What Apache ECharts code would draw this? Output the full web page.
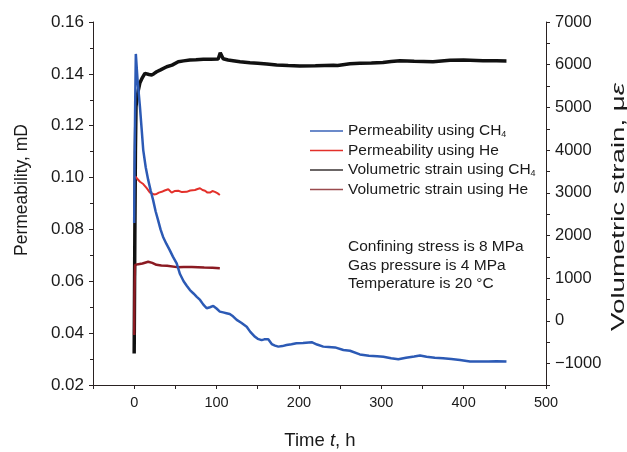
<!DOCTYPE html>
<html>
<head>
<meta charset="utf-8">
<script src="https://cdn.jsdelivr.net/npm/echarts@6/dist/echarts.min.js"></script>
<style>
html,body{margin:0;padding:0;background:#fff;}
#chart{width:627px;height:452px;}
</style>
</head>
<body>
<div id="chart"></div>
<script>
// ---- data ----
const permCH4Time = [0, 0.5, 1.2, 2, 4, 7, 9, 11, 14, 17, 20, 23, 26, 29, 32, 35, 39, 43, 47, 51.6, 55.6, 60, 64, 67.7, 72, 76, 80, 84, 88, 92, 96, 100, 104, 108, 112, 116, 120, 124.5, 130, 136.6, 141, 146.7, 150, 154.8, 158, 162.8, 167, 171, 175, 180, 185, 191, 197, 205, 215.5, 222, 229.6, 236, 243.8, 254, 262, 274, 285, 295, 302.5, 312, 320.7, 330, 340, 347, 355, 365, 375, 385, 395.6, 407.7, 420, 430, 440, 452];
const permCH4 = [0.0825, 0.105, 0.128, 0.1477, 0.138, 0.1273, 0.119, 0.1106, 0.104, 0.0991, 0.095, 0.0913, 0.087, 0.0836, 0.080, 0.0772, 0.0745, 0.0721, 0.0695, 0.0669, 0.0628, 0.060, 0.0582, 0.0566, 0.0553, 0.054, 0.0528, 0.051, 0.0496, 0.0500, 0.0505, 0.0495, 0.0483, 0.0480, 0.0477, 0.0474, 0.0465, 0.0451, 0.0440, 0.0425, 0.0405, 0.0386, 0.0378, 0.0373, 0.0376, 0.0376, 0.0358, 0.0352, 0.0348, 0.0350, 0.0354, 0.0357, 0.0361, 0.0362, 0.0365, 0.0356, 0.0348, 0.0347, 0.0345, 0.0335, 0.0332, 0.0318, 0.0313, 0.0311, 0.0309, 0.0303, 0.0299, 0.0305, 0.0310, 0.0314, 0.0309, 0.0305, 0.0303, 0.0300, 0.0296, 0.0291, 0.0291, 0.0291, 0.0292, 0.0291];

const permHeTime = [1, 2.2, 7, 11, 15.2, 19.2, 21.2, 24, 27.3, 30, 33.4, 37, 41.4, 45.5, 49, 53.5, 58, 63.7, 68, 73.8, 77, 79.9, 83, 86, 89, 92, 95, 98, 101, 104];
const permHe = [0.1005, 0.1008, 0.0984, 0.0975, 0.0959, 0.0942, 0.0940, 0.0935, 0.0937, 0.0942, 0.0945, 0.0950, 0.0955, 0.0942, 0.0948, 0.0949, 0.0944, 0.0945, 0.0950, 0.0952, 0.0956, 0.0959, 0.0952, 0.0949, 0.0942, 0.0942, 0.0948, 0.0945, 0.0940, 0.0933];

const strainCH4Time = [0, 0.8, 1.5, 2.2, 3, 5, 7, 10, 13, 15.2, 18, 21.2, 24, 27.3, 32, 39.5, 46, 53.5, 60, 67.7, 75, 84, 93, 102, 103.5, 104.5, 108, 114, 120, 128.5, 140.6, 150, 161, 173, 187, 201, 220, 242, 247, 248, 262, 274, 288, 302, 312, 322.7, 340, 362.8, 383.4, 400, 423.5, 440, 452];
const strainCH4 = [-760, 2000, 4000, 5016, 5173, 5400, 5580, 5700, 5798, 5800, 5770, 5759, 5790, 5836, 5880, 5953, 5990, 6070, 6090, 6110, 6115, 6126, 6130, 6135, 6140, 6281, 6140, 6110, 6094, 6071, 6047, 6035, 6016, 5995, 5982, 5970, 5975, 5986, 5984, 6020, 6020, 6033, 6040, 6050, 6075, 6094, 6082, 6070, 6105, 6108, 6094, 6090, 6087];

const strainHeTime = [0, 0.3, 1, 5, 10, 17, 22, 27, 33, 40, 52, 60, 70, 85, 95, 104];
const strainHe = [-330, 600, 1310, 1330, 1345, 1385, 1360, 1315, 1300, 1290, 1260, 1265, 1265, 1250, 1245, 1235];

const seriesNames = ['Permeability using CH4', 'Permeability using He', 'Volumetric strain using CH4', 'Volumetric strain using He'];
const xTicks = [-50, 500, 50];
const yLeftTicks = [0.02, 0.16, 0.02];
const yRightTicks = [-1500, 7000, 500];
const notes = ['Confining stress is 8 MPa', 'Gas pressure is 4 MPa', 'Temperature is 20 \u00B0C'];

function zip(a, b) { return a.map((t, i) => [t, b[i]]); }

const FONT = '"Liberation Sans", Arial, sans-serif';
const AX = '#2a2222';

const chart = echarts.init(document.getElementById('chart'), null, { renderer: 'canvas' });
chart.setOption({
  animation: false,
  backgroundColor: '#fff',
  textStyle: { fontFamily: FONT },
  grid: { left: 93, right: 81, top: 22, bottom: 67, containLabel: false },
  legend: {
    data: seriesNames,
    orient: 'vertical',
    left: 305, top: 118,
    icon: 'rect',
    itemWidth: 33, itemHeight: 1.5,
    itemGap: 3.5,
    textStyle: {
      fontFamily: FONT, fontSize: 15.5, color: '#1a1a1a',
      rich: { sub: { fontFamily: FONT, fontSize: 9, verticalAlign: 'bottom', padding: [7, 0, 0, 0], color: '#1a1a1a' } }
    },
    formatter: n => n.replace('CH4', 'CH{sub|4}')
  },
  xAxis: {
    type: 'value', min: xTicks[0], max: xTicks[1], interval: xTicks[2],
    axisLine: { onZero: false, lineStyle: { color: AX, width: 1 } },
    axisTick: { show: true, inside: false, length: 4, lineStyle: { color: AX } },
    axisLabel: { fontFamily: FONT, fontSize: 14.5, color: '#1a1a1a', margin: 10,
      formatter: v => (v % 100 === 0 && v >= 0) ? String(v) : '' },
    splitLine: { show: false }
  },
  yAxis: [{
    type: 'value', position: 'left', min: yLeftTicks[0], max: yLeftTicks[1], interval: yLeftTicks[2],
    axisLine: { show: true, onZero: false, lineStyle: { color: AX, width: 1 } },
    axisTick: { show: true, length: 4, lineStyle: { color: AX } },
    minorTick: { show: true, splitNumber: 2, length: 3, lineStyle: { color: AX } },
    axisLabel: { fontFamily: FONT, fontSize: 17, color: '#1a1a1a', margin: 9, formatter: v => v.toFixed(2) },
    splitLine: { show: false }
  }, {
    type: 'value', position: 'right', min: yRightTicks[0], max: yRightTicks[1], interval: yRightTicks[2],
    axisLine: { show: true, onZero: false, lineStyle: { color: AX, width: 1 } },
    axisTick: { show: true, length: 4, lineStyle: { color: AX } },
    axisLabel: { fontFamily: FONT, fontSize: 16.5, color: '#1a1a1a', margin: 9,
      formatter: v => (v % 1000 === 0) ? String(v).replace('-', '\u2212') : '' },
    splitLine: { show: false }
  }],
  graphic: [
    { type: 'text', left: 348, top: 238, style: { text: notes.join('\n'), fontFamily: FONT, fontSize: 15.5, lineHeight: 18.3, fill: '#1a1a1a' } },
    { type: 'text', x: 22, y: 190, rotation: Math.PI / 2, style: { text: 'Permeability, mD', fontFamily: FONT, fontSize: 17.5, fill: '#1a1a1a', align: 'center', verticalAlign: 'middle' } },
    { type: 'text', x: 619, y: 207, rotation: Math.PI / 2, scaleX: 1.58, scaleY: 1, style: { text: 'Volumetric strain, \u03BC{i|\u03B5}', fontFamily: FONT, fontSize: 17.5, fill: '#1a1a1a', align: 'center', verticalAlign: 'middle',
      rich: { i: { fontFamily: FONT, fontSize: 17.5, fontStyle: 'italic', fill: '#1a1a1a' } } } },
    { type: 'text', x: 320, y: 441, style: { text: 'Time {i|t}, h', fontFamily: FONT, fontSize: 18.5, fill: '#1a1a1a', align: 'center', verticalAlign: 'middle',
      rich: { i: { fontFamily: FONT, fontSize: 18.5, fontStyle: 'italic', fill: '#1a1a1a' } } } }
  ],
  series: [
    { name: seriesNames[2], type: 'line', yAxisIndex: 1, data: zip(strainCH4Time, strainCH4), showSymbol: false, symbol: 'none',
      lineStyle: { color: '#111111', width: 3.5 }, itemStyle: { color: '#3a3333' }, z: 2 },
    { name: seriesNames[3], type: 'line', yAxisIndex: 1, data: zip(strainHeTime, strainHe), showSymbol: false, symbol: 'none',
      lineStyle: { color: '#8b1a22', width: 2.5 }, itemStyle: { color: '#9a4a4e' }, z: 3 },
    { name: seriesNames[1], type: 'line', yAxisIndex: 0, data: zip(permHeTime, permHe), showSymbol: false, symbol: 'none',
      lineStyle: { color: '#e3302a', width: 2 }, itemStyle: { color: '#e3302a' }, z: 4 },
    { name: seriesNames[0], type: 'line', yAxisIndex: 0, data: zip(permCH4Time, permCH4), showSymbol: false, symbol: 'none',
      lineStyle: { color: '#2c5ab5', width: 2.5 }, itemStyle: { color: '#3a63b8' }, z: 5 }
  ]
});
</script>
</body>
</html>
